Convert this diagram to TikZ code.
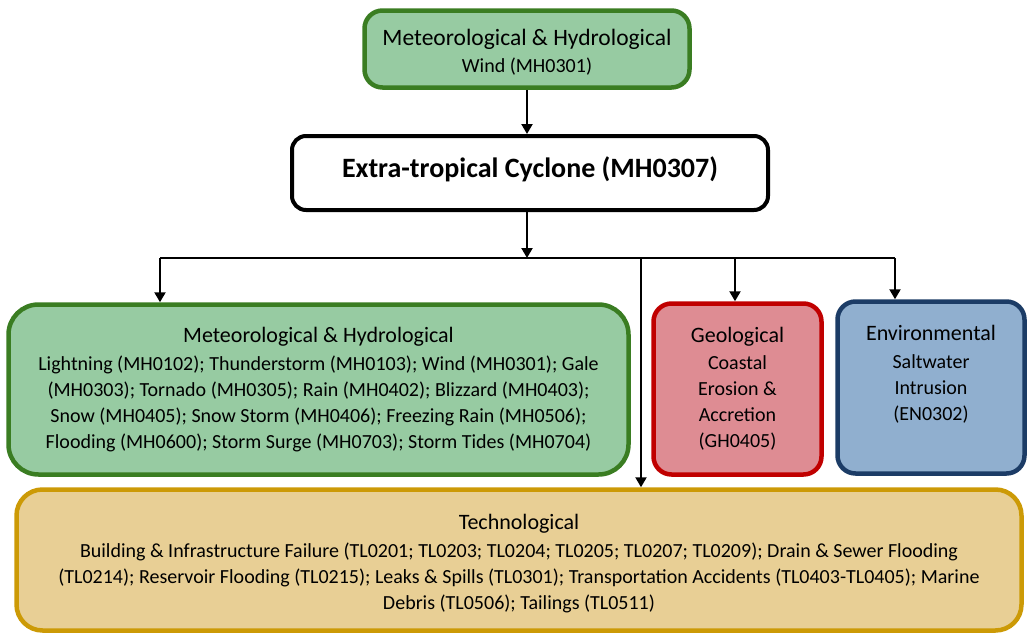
\documentclass[tikz,border=0pt]{standalone}
\usepackage{fontspec}
\setmainfont{Carlito}
\usetikzlibrary{arrows.meta}

\definecolor{mhfill}{HTML}{97CBA2}
\definecolor{mhline}{HTML}{3A7D22}
\definecolor{gefill}{HTML}{DE8C93}
\definecolor{geline}{HTML}{C00000}
\definecolor{enfill}{HTML}{90AFCF}
\definecolor{enline}{HTML}{1C3C66}
\definecolor{tlfill}{HTML}{E8CF95}
\definecolor{tlline}{HTML}{CC9A06}

\newcommand{\hazhead}[1]{{\fontsize{22}{26}\selectfont #1}}

\tikzset{
  hazbox/.style={draw,line width=4.5pt,rounded corners=18pt,align=center,
    inner sep=0pt,font=\fontsize{20}{26}\selectfont},
  mhbox/.style={hazbox,fill=mhfill,draw=mhline},
  gebox/.style={hazbox,fill=gefill,draw=geline},
  enbox/.style={hazbox,fill=enfill,draw=enline},
  tlbox/.style={hazbox,fill=tlfill,draw=tlline,rounded corners=26pt},
  link/.style={->,line width=2.2pt}
}

\begin{document}
\begin{tikzpicture}[x=1pt,y=-1pt,>={Triangle[length=10pt,width=11pt]}]
	  \useasboundingbox (0,0) rectangle (1034,638);
	  % parent hazards
	  \node[mhbox,minimum width=325pt,minimum height=77pt] (wind) at (527,49)
	    {\rule{0pt}{23pt}{\fontsize{23.5}{28}\selectfont Meteorological \& Hydrological}\\[1pt]Wind (MH0301)};
	  \node[hazbox,fill=white,line width=4pt,rounded corners=14pt,
	    minimum width=476pt,minimum height=74pt,font=\fontsize{28}{32}\selectfont\bfseries]
	    (etc) at (530,173) {\raisebox{11pt}{Extra-tropical Cyclone (MH0307)}};
	  % child hazards
	  \node[mhbox,rounded corners=30pt,minimum width=620pt,minimum height=170pt] (met) at (318.5,389.5)
	    {\hazhead{Meteorological \& Hydrological}\\[2pt]
	     Lightning (MH0102); Thunderstorm (MH0103); Wind (MH0301); Gale\\
	     (MH0303); Tornado (MH0305); Rain (MH0402); Blizzard (MH0403);\\
	     Snow (MH0405); Snow Storm (MH0406); Freezing Rain (MH0506);\\
	     Flooding (MH0600); Storm Surge (MH0703); Storm Tides (MH0704)};
	  \node[gebox,minimum width=168pt,minimum height=171pt] (geo) at (737.5,389)
	    {\hazhead{Geological}\\[1pt]Coastal\\Erosion \&\\Accretion\\(GH0405)};
	  \node[enbox,minimum width=187pt,minimum height=172pt] (env) at (931,387.5)
	    {\parbox[c][150pt][t]{180pt}{\centering\vspace{13pt}
	     \hazhead{Environmental}\\[2pt]Saltwater\\Intrusion\\(EN0302)}};
	  \node[tlbox,minimum width=1005pt,minimum height=141pt] (tech) at (519,560)
	    {\rule{0pt}{22pt}\hazhead{Technological}\\[2pt]
	     Building \& Infrastructure Failure (TL0201; TL0203; TL0204; TL0205; TL0207; TL0209); Drain \& Sewer Flooding\\
	     (TL0214); Reservoir Flooding (TL0215); Leaks \& Spills (TL0301); Transportation Accidents (TL0403-TL0405); Marine\\
	     Debris (TL0506); Tailings (TL0511)};
	  % connectors
	  \coordinate (split) at (527,258);
	  \coordinate (b1) at (160,258);
	  \coordinate (b2) at (641,258);
	  \coordinate (b3) at (735,258);
	  \coordinate (b4) at (895,258);
	  \draw[link] (wind) -- (wind |- etc.north);
	  \draw[link] (etc.south -| split) -- (split);
	  \draw[line width=2.2pt] (b1) -- (b4);
	  \draw[link] (b1) -- (b1 |- met.north);
	  \draw[link] (b2) -- (b2 |- tech.north);
	  \draw[link] (b3) -- (b3 |- geo.north);
	  \draw[link] (b4) -- (b4 |- env.north);
	\end{tikzpicture}
\end{document}
